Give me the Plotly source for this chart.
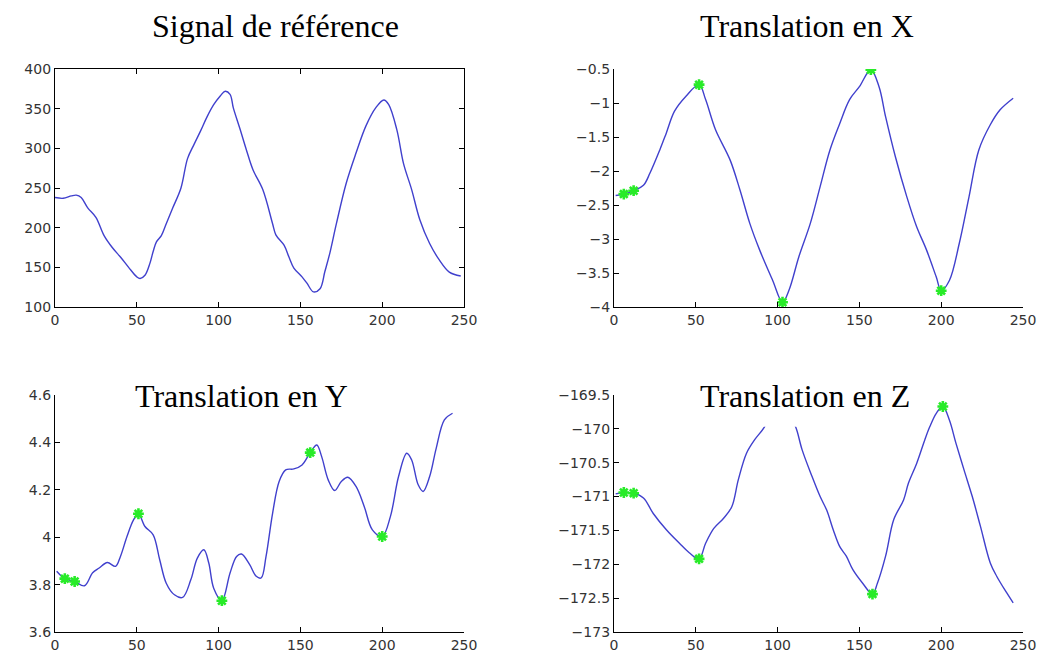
import plotly.graph_objects as go

# ---------------- data ----------------
ref_x = [0, 5, 10, 13, 16, 20, 25, 30, 35, 40, 45, 50, 52, 55, 58, 60, 62, 65, 68, 72, 77, 81, 85, 89, 93, 97,
         101, 104, 107, 109, 113, 117, 121, 127, 133, 135, 140, 143, 146, 151, 154, 158, 162, 165, 168, 172,
         178, 184, 190, 196, 201, 204, 209, 213, 218, 223, 229, 235, 241, 248]
ref_y = [238, 237, 240, 241, 238, 225, 213, 190, 175, 163, 150, 138, 136, 140, 155, 170, 182, 190, 205, 225,
         250, 287, 305, 322, 340, 355, 366, 372, 368, 351, 325, 298, 273, 248, 205, 191, 178, 163, 149, 138,
         130, 119, 123, 145, 168, 205, 256, 294, 328, 351, 361, 355, 323, 281, 248, 210, 180, 159, 144, 139]

tx_x = [1, 6, 12, 18, 22, 28, 32, 37, 44, 52, 56, 62, 71, 77, 83, 89, 97, 103, 107, 113, 120, 126, 132, 138,
        144, 150, 157, 162, 166, 172, 179, 185, 191, 197, 200, 205, 211, 217, 223, 230, 236, 244]
tx_y = [-2.36, -2.34, -2.29, -2.21, -2.03, -1.69, -1.44, -1.12, -0.90, -0.73, -0.95, -1.39, -1.84, -2.28,
        -2.77, -3.16, -3.61, -3.93, -3.75, -3.26, -2.77, -2.23, -1.69, -1.30, -0.95, -0.76, -0.51, -0.76,
        -1.20, -1.79, -2.38, -2.82, -3.16, -3.56, -3.76, -3.61, -3.07, -2.38, -1.69, -1.32, -1.10, -0.93]
tx_mk_x = [6, 12, 52, 103, 157, 200]
tx_mk_y = [-2.34, -2.29, -0.73, -3.93, -0.51, -3.76]

ty_x = [1, 4, 6, 12, 18, 23, 27, 32, 37, 40, 44, 48, 51, 55, 60, 64, 68, 73, 78, 83, 87, 91, 94, 97, 102,
        107, 111, 114, 119, 123, 126, 129, 133, 137, 141, 146, 151, 156, 160, 163, 167, 171, 175, 179, 184,
        189, 194, 200, 205, 210, 215, 218, 222, 225, 229, 233, 238, 243]
ty_y = [3.856, 3.835, 3.825, 3.813, 3.795, 3.850, 3.870, 3.893, 3.877, 3.919, 4.003, 4.073, 4.099, 4.045,
        4.010, 3.905, 3.806, 3.757, 3.746, 3.820, 3.912, 3.947, 3.891, 3.785, 3.732, 3.849, 3.919, 3.929,
        3.884, 3.835, 3.828, 3.919, 4.101, 4.235, 4.284, 4.288, 4.305, 4.357, 4.389, 4.340, 4.242, 4.197,
        4.235, 4.253, 4.214, 4.130, 4.031, 4.003, 4.087, 4.256, 4.354, 4.326, 4.221, 4.193, 4.256, 4.375,
        4.495, 4.523]
ty_mk_x = [6, 12, 51, 102, 156, 200]
ty_mk_y = [3.825, 3.813, 4.099, 3.732, 4.357, 4.003]

tz_x = [1, 6, 12, 18, 24, 32, 40, 46, 52, 56, 61, 67, 72, 76, 81, 86, 92, 96, 101, 106, 111, 115, 121, 126,
        130, 134, 138, 142, 146, 152, 158, 161, 166, 171, 177, 180, 185, 190, 193, 197, 201, 205, 209, 214,
        219, 224, 230, 234, 240, 244]
tz_y = [-170.96, -170.94, -170.95, -171.02, -171.25, -171.49, -171.69, -171.83, -171.92, -171.69, -171.47,
        -171.32, -171.15, -170.75, -170.36, -170.16, -169.97, -169.75, -169.65, -169.75, -169.97, -170.31,
        -170.70, -171.00, -171.20, -171.49, -171.74, -171.88, -172.08, -172.28, -172.44, -172.28, -171.88,
        -171.34, -171.05, -170.80, -170.51, -170.16, -169.97, -169.77, -169.67, -169.87, -170.21, -170.61,
        -171.00, -171.44, -171.98, -172.18, -172.42, -172.57]
tz_mk_x = [6, 12, 52, 158, 201]
tz_mk_y = [-170.94, -170.95, -171.92, -172.44, -169.67]

titles = ["Signal de référence", "Translation en X", "Translation en Y", "Translation en Z"]
x_ticks = [0, 50, 100, 150, 200, 250]
ref_ticks = [100, 150, 200, 250, 300, 350, 400]
tx_ticks = [-4, -3.5, -3, -2.5, -2, -1.5, -1, -0.5]
ty_ticks = [3.6, 3.8, 4.0, 4.2, 4.4, 4.6]
ty_labels = ["3.6", "3.8", "4", "4.2", "4.4", "4.6"]
tz_ticks = [-173, -172.5, -172, -171.5, -171, -170.5, -170, -169.5]

# ---------------- styling ----------------
LINE = dict(color="rgb(64,64,205)", width=1.4)
MK = dict(symbol="asterisk-open", size=9, color="rgb(40,235,40)",
          line=dict(color="rgb(40,235,40)", width=2.6))
TICKFONT = dict(family="DejaVu Sans, Arial, sans-serif", size=14, color="#333")
TITLEFONT = dict(family="Liberation Serif, Times New Roman, serif", size=32, color="#000")

W, H = 1043, 654


def px_x(p):
    return p / W


def px_y(p):
    return 1 - p / H


L1, R1 = px_x(55), px_x(464)
L2, R2 = px_x(614), px_x(1023)
T1, B1 = px_y(69), px_y(307)
T2, B2 = px_y(395), px_y(632)

fig = go.Figure()
fig.add_trace(go.Scatter(x=ref_x, y=ref_y, mode="lines", line=LINE, xaxis="x", yaxis="y",
                         line_shape="spline", showlegend=False))
fig.add_trace(go.Scatter(x=tx_x, y=tx_y, mode="lines", line=LINE, xaxis="x2", yaxis="y2",
                         line_shape="spline", showlegend=False))
fig.add_trace(go.Scatter(x=tx_mk_x, y=tx_mk_y, mode="markers", marker=MK, xaxis="x2", yaxis="y2",
                         showlegend=False))
fig.add_trace(go.Scatter(x=ty_x, y=ty_y, mode="lines", line=LINE, xaxis="x3", yaxis="y3",
                         line_shape="spline", showlegend=False))
fig.add_trace(go.Scatter(x=ty_mk_x, y=ty_mk_y, mode="markers", marker=MK, xaxis="x3", yaxis="y3",
                         showlegend=False))
fig.add_trace(go.Scatter(x=tz_x, y=tz_y, mode="lines", line=LINE, xaxis="x4", yaxis="y4",
                         line_shape="spline", showlegend=False))
fig.add_trace(go.Scatter(x=tz_mk_x, y=tz_mk_y, mode="markers", marker=MK, xaxis="x4", yaxis="y4",
                         showlegend=False))


def ax(domain, anchor, tickvals, rng, mirror=False, ticktext=None):
    d = dict(domain=domain, anchor=anchor, range=rng, tickvals=tickvals, showgrid=False,
             zeroline=False, showline=True, linecolor="#000", linewidth=1.3,
             ticks="inside", ticklen=5, tickcolor="#000", tickwidth=1, automargin=False,
             tickfont=TICKFONT, mirror="allticks" if mirror else False, fixedrange=True)
    if ticktext is not None:
        d["ticktext"] = ticktext
    return d


fig.update_layout(
    width=W, height=H, margin=dict(l=0, r=0, t=0, b=0, autoexpand=False),
    paper_bgcolor="white", plot_bgcolor="white", hovermode=False,
    xaxis=ax([L1, R1], "y", x_ticks, [0, 250], mirror=True),
    yaxis=ax([B1, T1], "x", ref_ticks, [100, 400], mirror=True),
    xaxis2=ax([L2, R2], "y2", x_ticks, [0, 250]),
    yaxis2=ax([B1, T1], "x2", tx_ticks, [-4, -0.5]),
    xaxis3=ax([L1, R1], "y3", x_ticks, [0, 250]),
    yaxis3=ax([B2, T2], "x3", ty_ticks, [3.6, 4.6], ticktext=ty_labels),
    xaxis4=ax([L2, R2], "y4", x_ticks, [0, 250]),
    yaxis4=ax([B2, T2], "x4", tz_ticks, [-173, -169.5]),
)

# white box that masks the top of the Z curve behind its title
fig.add_shape(type="rect", xref="x4 domain", yref="y4 domain", x0=0.19, x1=0.77, y0=0.866, y1=1.09,
              fillcolor="white", line=dict(width=0), layer="above")

title_pos = [("x domain", "y domain", 0.54, 1.18),
             ("x2 domain", "y2 domain", 0.472, 1.18),
             ("x3 domain", "y3 domain", 0.457, 0.996),
             ("x4 domain", "y4 domain", 0.467, 0.996)]
for t, (xr, yr, xx, yy) in zip(titles, title_pos):
    fig.add_annotation(text=t, xref=xr, yref=yr, x=xx, y=yy, xanchor="center", yanchor="middle",
                       showarrow=False, font=TITLEFONT)

fig.write_html("out.html", config={"displayModeBar": False},
               post_script="document.body.style.margin='0';document.body.style.overflow='hidden';")
